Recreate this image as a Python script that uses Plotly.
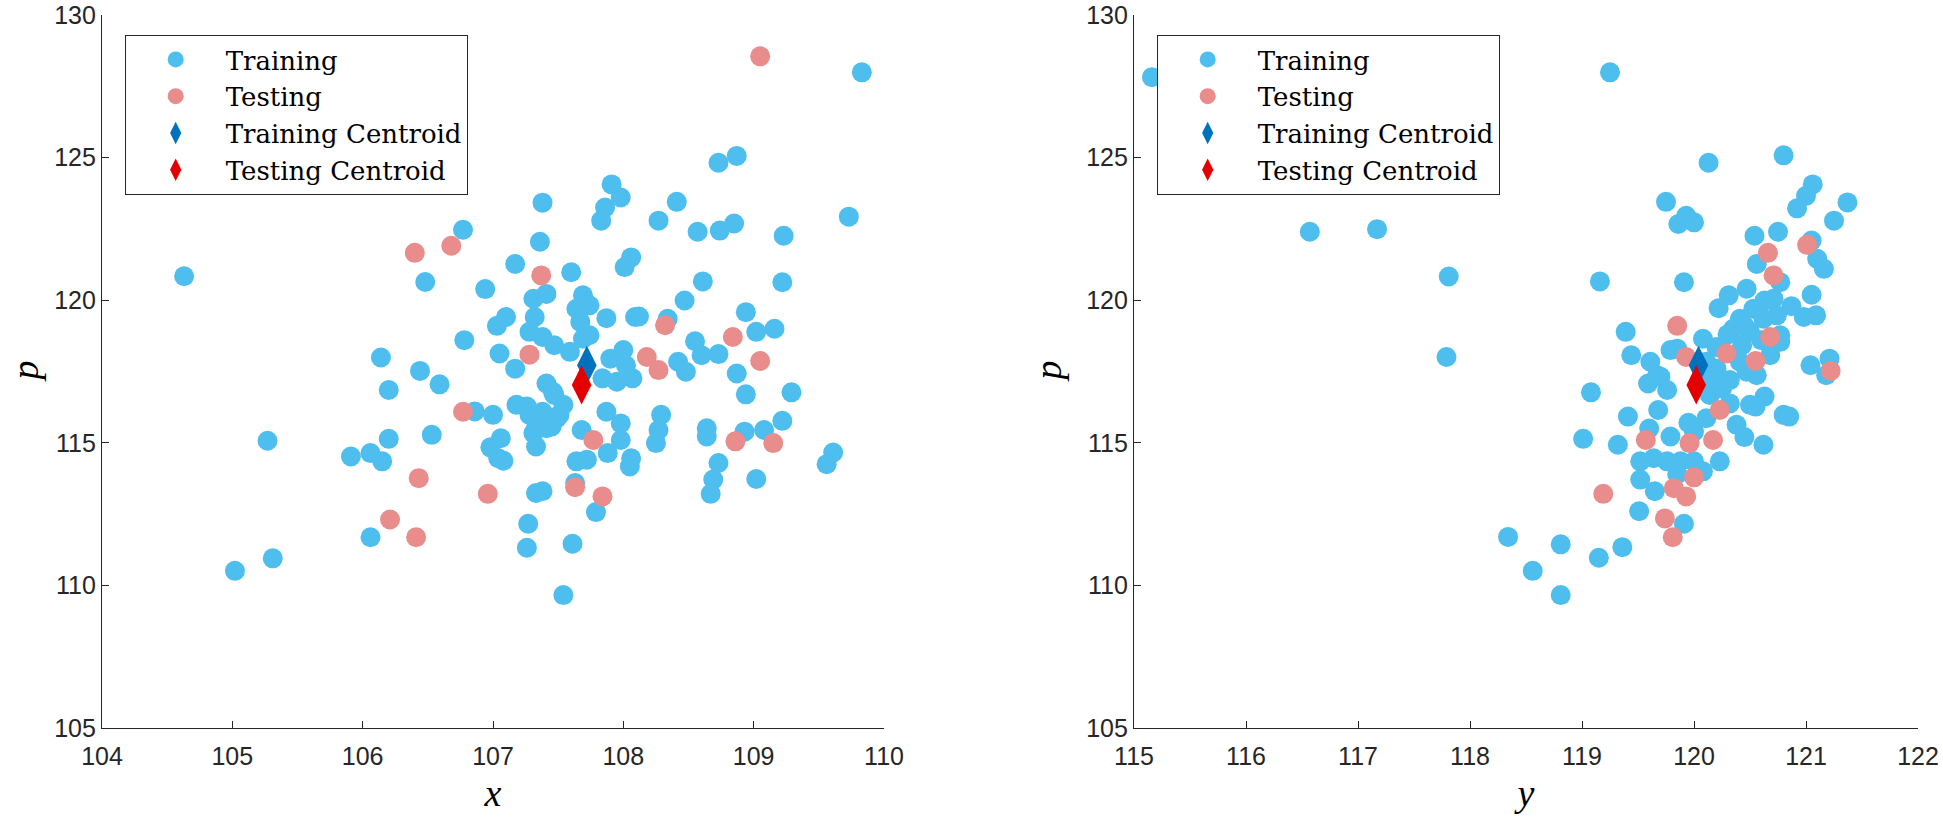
import plotly.graph_objects as go

# ---------------- data: left panel (x vs p) ----------------
left_train_x = [104.63, 105.02, 105.31, 105.27, 105.91, 106.06, 106.15, 106.06, 106.20, 106.53,
                106.20, 106.59, 106.86, 107.00, 106.98, 107.04, 106.77, 106.48, 106.94, 107.03,
                106.78, 107.05, 106.14, 106.44, 107.38, 107.36, 107.17, 107.60, 107.31, 107.41,
                107.69, 107.64, 107.74, 107.87, 107.10, 107.32, 107.28, 107.67, 107.38, 107.47,
                107.59, 107.69, 107.74, 108.09, 107.17, 107.84, 107.90, 108.00, 107.95, 108.07,
                108.02, 107.41, 107.47, 107.54, 107.49, 107.38, 107.28, 107.33, 107.45, 107.18,
                107.06, 107.08, 107.33, 107.68, 107.87, 107.98, 107.98, 107.88, 107.64, 107.72,
                108.05, 107.33, 107.38, 107.63, 107.79, 107.27, 107.26, 107.61, 107.54, 109.83,
                108.87, 108.73, 107.91, 107.98, 107.86, 107.83, 108.41, 108.27, 108.57, 108.74,
                108.85, 109.23, 109.73, 108.06, 108.01, 108.61, 109.22, 108.47, 108.94, 108.12,
                108.34, 109.02, 109.16, 108.55, 108.60, 108.73, 108.42, 108.48, 108.87, 108.94,
                109.29, 108.29, 108.27, 108.25, 108.64, 108.64, 108.73, 108.69, 108.67, 108.93,
                109.08, 109.22, 109.02, 109.61, 109.56, 108.06, 107.26, 107.46, 107.51, 107.44,
                107.33, 107.41, 107.31]
left_train_p = [120.84, 110.51, 110.95, 115.07, 114.52, 114.64, 114.35, 111.69, 115.14, 115.28,
                116.85, 117.05, 116.10, 115.98, 114.84, 114.46, 122.47, 120.64, 120.39, 119.10,
                118.60, 118.13, 117.99, 117.52, 123.42, 122.05, 121.27, 120.98, 120.05, 120.22,
                120.17, 119.70, 119.82, 119.37, 119.41, 119.41, 118.89, 119.24, 118.71, 118.42,
                118.19, 118.65, 118.77, 119.41, 117.60, 117.26, 117.95, 118.25, 117.14, 117.26,
                117.72, 117.08, 116.68, 116.33, 115.86, 116.09, 115.98, 115.51, 115.57, 116.33,
                115.16, 114.37, 114.87, 115.45, 116.09, 115.68, 115.10, 114.64, 114.35, 114.41,
                114.17, 113.24, 113.30, 113.59, 112.57, 112.16, 111.32, 111.46, 109.66, 127.99,
                125.06, 124.82, 124.06, 123.60, 123.25, 122.79, 123.45, 122.79, 122.40, 122.44,
                122.69, 122.26, 122.93, 121.50, 121.16, 120.66, 120.63, 119.99, 119.58, 119.43,
                119.35, 118.89, 119.00, 118.56, 118.07, 118.11, 117.84, 117.49, 117.43, 116.70,
                116.77, 115.98, 115.45, 114.99, 115.51, 115.22, 114.29, 113.71, 113.21, 115.39,
                115.45, 115.77, 113.73, 114.66, 114.25, 114.46, 116.27, 116.79, 115.98, 115.68,
                115.74, 115.51, 115.34]
left_test_x = [106.40, 106.68, 107.37, 107.28, 106.77, 106.43, 106.21, 106.41, 106.96, 107.77,
               107.63, 107.84, 109.05, 108.32, 108.84, 109.05, 108.18, 108.27, 108.86, 109.15]
left_test_p = [121.66, 121.91, 120.87, 118.09, 116.09, 113.76, 112.31, 111.69, 113.21, 115.10,
               113.44, 113.12, 128.55, 119.12, 118.71, 117.87, 118.01, 117.55, 115.05, 114.99]
left_train_centroid = (107.72, 117.72)
left_test_centroid = (107.68, 117.03)

# ---------------- data: right panel (y vs p) ----------------
right_train_y = [115.16, 116.57, 117.17, 117.81, 117.79, 119.25, 120.13, 120.80, 119.75, 119.86,
                 119.93, 120.00, 121.06, 121.00, 120.92, 121.37, 121.25, 120.54, 120.75, 121.05,
                 120.56, 120.77, 121.10, 121.16, 121.05, 121.09, 120.98, 120.87, 119.16, 119.91,
                 119.39, 119.44, 119.61, 119.70, 119.59, 119.76, 119.85, 120.08, 120.20, 120.22,
                 120.31, 120.47, 120.41, 120.53, 120.63, 120.71, 120.35, 120.50, 120.62, 120.74,
                 120.77, 120.43, 120.68, 120.56, 120.32, 120.20, 120.11, 121.04, 121.21, 121.18,
                 119.08, 119.68, 120.14, 120.32, 120.50, 120.63, 120.80, 119.41, 119.01, 119.32,
                 119.52, 119.64, 119.76, 119.88, 120.00, 120.08, 120.23, 119.79, 120.00, 120.11,
                 120.38, 120.55, 120.85, 120.62, 119.52, 119.65, 119.51, 119.91, 118.34, 118.81,
                 118.56, 118.81, 119.15, 119.36, 119.67, 120.47, 120.77, 119.79, 120.41, 120.45,
                 120.60, 120.30, 120.15, 120.25, 119.95, 120.45, 119.60, 119.85]
right_train_p = [127.82, 122.40, 122.49, 120.83, 118.01, 127.99, 124.82, 125.08, 123.45, 122.67,
                 122.96, 122.73, 124.06, 123.66, 123.22, 123.43, 122.79, 122.26, 122.40, 122.09,
                 121.27, 120.63, 121.45, 121.10, 120.19, 119.47, 119.41, 119.79, 120.66, 120.63,
                 118.89, 118.07, 117.84, 117.32, 117.08, 116.85, 118.30, 118.65, 118.36, 119.72,
                 120.17, 120.40, 119.35, 119.70, 119.99, 120.05, 119.00, 118.89, 119.35, 119.47,
                 118.54, 118.42, 118.07, 117.37, 117.20, 117.60, 117.84, 117.72, 117.95, 117.37,
                 116.77, 116.15, 116.68, 116.38, 116.33, 116.62, 115.98, 115.92, 115.14, 114.93,
                 114.35, 114.46, 114.35, 114.35, 114.35, 114.00, 114.35, 115.22, 115.39, 115.86,
                 115.63, 116.27, 115.92, 114.93, 113.71, 113.30, 112.60, 112.16, 111.70, 111.44,
                 110.51, 109.66, 110.97, 111.34, 117.37, 117.49, 118.77, 118.25, 117.84, 119.10,
                 118.60, 118.80, 117.30, 116.90, 115.70, 115.20, 115.50, 113.90]
right_test_y = [121.01, 120.66, 120.71, 119.85, 119.93, 120.29, 120.68, 120.55, 121.22, 120.23,
                119.57, 119.96, 120.17, 119.19, 119.82, 119.93, 120.00, 119.74, 119.81]
right_test_p = [121.94, 121.66, 120.87, 119.10, 118.01, 118.13, 118.71, 117.87, 117.52, 116.15,
                115.10, 114.99, 115.10, 113.21, 113.41, 113.12, 113.79, 112.35, 111.69]
right_train_centroid = (120.04, 117.72)
right_test_centroid = (120.02, 117.03)

x_ticks = [104, 105, 106, 107, 108, 109, 110]
y_ticks = [115, 116, 117, 118, 119, 120, 121, 122]
p_ticks = [105, 110, 115, 120, 125, 130]

# ---------------- styles ----------------
C_TRAIN = "rgb(77,190,238)"
C_TEST = "rgb(232,140,140)"
C_TRAIN_CEN = "rgb(0,114,189)"
C_TEST_CEN = "rgb(228,0,0)"
AX_COL = "rgb(38,38,38)"
TICK_FONT = dict(family="Liberation Sans, Arial, sans-serif", size=25, color=AX_COL)
LEG_FONT = dict(family="DejaVu Serif, serif", size=26, color="black")
TITLE_FONT = dict(family="Liberation Serif, Times New Roman, serif", size=38, color="black")
DOT = 20

W, H = 1943, 820
ML, MR, MT, MB = 102, 25, 15, 92
PW = W - ML - MR
PH = H - MT - MB

fig = go.Figure()

def add_panel(xv, pv, txv, tpv, cen_tr, cen_te, xa, ya, leg):
    fig.add_trace(go.Scatter(x=xv, y=pv, mode="markers", name="Training",
                             marker=dict(color=C_TRAIN, size=DOT, line=dict(width=0)),
                             xaxis=xa, yaxis=ya, legend=leg))
    fig.add_trace(go.Scatter(x=txv, y=tpv, mode="markers", name="Testing",
                             marker=dict(color=C_TEST, size=DOT, line=dict(width=0)),
                             xaxis=xa, yaxis=ya, legend=leg))
    fig.add_trace(go.Scatter(x=[cen_tr[0]], y=[cen_tr[1]], mode="markers", name="Training Centroid",
                             marker=dict(color=C_TRAIN_CEN, size=28, symbol="diamond-tall", line=dict(width=0)),
                             xaxis=xa, yaxis=ya, legend=leg))
    fig.add_trace(go.Scatter(x=[cen_te[0]], y=[cen_te[1]], mode="markers", name="Testing Centroid",
                             marker=dict(color=C_TEST_CEN, size=28, symbol="diamond-tall", line=dict(width=0)),
                             xaxis=xa, yaxis=ya, legend=leg))

add_panel(left_train_x, left_train_p, left_test_x, left_test_p,
          left_train_centroid, left_test_centroid, "x", "y", "legend")
add_panel(right_train_y, right_train_p, right_test_y, right_test_p,
          right_train_centroid, right_test_centroid, "x2", "y2", "legend2")

axis_common = dict(showline=True, linecolor=AX_COL, linewidth=1.3, mirror=False,
                   ticks="inside", ticklen=7, tickwidth=1.2, tickcolor=AX_COL,
                   showgrid=False, zeroline=False, tickfont=TICK_FONT, automargin=False,
                   ticklabeloverflow="allow")

left_dom = [0, (884 - ML) / PW]
right_dom = [(1134 - ML) / PW, (1918 - ML) / PW]

def px_to_paper_x(px):
    return (px - ML) / PW

fig.update_layout(
    width=W, height=H,
    margin=dict(l=ML, r=MR, t=MT, b=MB),
    paper_bgcolor="white", plot_bgcolor="white",
    xaxis=dict(domain=left_dom, range=[104, 110], tickvals=x_ticks, anchor="y",
               ticklabelstandoff=6,
               title=dict(text="<i>x</i>", font=TITLE_FONT, standoff=10), **axis_common),
    yaxis=dict(domain=[0, 1], range=[105, 130], tickvals=p_ticks, anchor="x", **axis_common),
    xaxis2=dict(domain=right_dom, range=[115, 122], tickvals=y_ticks, anchor="y2",
                ticklabelstandoff=6,
                title=dict(text="<i>y</i>", font=TITLE_FONT, standoff=10), **axis_common),
    yaxis2=dict(domain=[0, 1], range=[105, 130], tickvals=p_ticks, anchor="x2", **axis_common),
    legend=dict(x=px_to_paper_x(124.7), y=1 - (35 - MT) / PH, xanchor="left", yanchor="top",
                bgcolor="white", bordercolor=AX_COL, borderwidth=1, font=LEG_FONT,
                itemwidth=90, tracegroupgap=0),
    legend2=dict(x=px_to_paper_x(1156.7), y=1 - (35 - MT) / PH, xanchor="left", yanchor="top",
                 bgcolor="white", bordercolor=AX_COL, borderwidth=1, font=LEG_FONT,
                 itemwidth=90, tracegroupgap=0),
    annotations=[
        dict(text="<i>p</i>", xref="paper", yref="paper", x=px_to_paper_x(24), y=0.5,
             textangle=-90, showarrow=False, font=TITLE_FONT, xanchor="center", yanchor="middle"),
        dict(text="<i>p</i>", xref="paper", yref="paper", x=px_to_paper_x(1047), y=0.5,
             textangle=-90, showarrow=False, font=TITLE_FONT, xanchor="center", yanchor="middle"),
    ],
)

fig.write_html("out.html", config={"displayModeBar": False},
               post_script="document.body.style.margin='0';document.body.style.overflow='hidden';")
